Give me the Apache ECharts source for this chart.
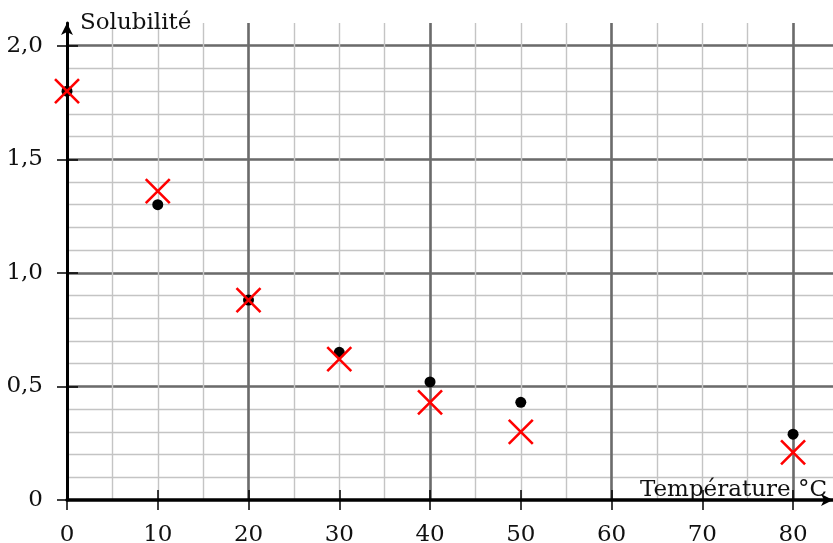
<!DOCTYPE html>
<html><head><meta charset="utf-8">
<script src="https://cdn.jsdelivr.net/npm/echarts@6/dist/echarts.min.js"></script>
<style>html,body{margin:0;padding:0;background:#fff}#c{width:833px;height:543px}</style>
</head><body><div id="c"></div>
<script>
// ---- data ----
const temperatures = [0, 10, 20, 30, 40, 50, 80];
const measured = [1.80, 1.30, 0.88, 0.65, 0.52, 0.43, 0.29];
const model = [1.80, 1.36, 0.88, 0.62, 0.43, 0.30, 0.21];
const xTicks = [0, 10, 20, 30, 40, 50, 60, 70, 80];
const yTicks = [0, 0.5, 1.0, 1.5, 2.0];
const xName = 'Température °C';
const yName = 'Solubilité';

const FONT = 'DejaVu Serif';
const X_MAX = 84.4, Y_MAX = 2.1;
const chart = echarts.init(document.getElementById('c'), null, {renderer: 'canvas'});
function fmtY(v) { return v === 0 ? '0' : v.toFixed(1).replace('.', ','); }
const hidden = {axisLabel: {show: false}, axisTick: {show: false}, axisLine: {show: false}};
const light = {color: '#c4c4c4', width: 1.4};
const dark = {color: '#6b6b6b', width: 2.6};

const option = {
  animation: false,
  grid: {left: 67, right: 0, top: 23, bottom: 43, containLabel: false, outerBoundsMode: 'none'},
  xAxis: [
    Object.assign({type: 'value', min: 0, max: X_MAX, interval: 5,
      splitLine: {show: true, showMinLine: false, showMaxLine: false, lineStyle: light}}, hidden),
    Object.assign({type: 'value', min: 0, max: X_MAX, interval: 20,
      splitLine: {show: true, showMinLine: false, showMaxLine: false, lineStyle: dark}}, hidden),
    {type: 'value', min: 0, max: X_MAX, interval: 10, position: 'bottom',
      axisLine: {show: false}, axisLabel: {show: false},
      axisTick: {show: true, inside: true, length: 10, customValues: xTicks.slice(1), lineStyle: {color: '#000', width: 1.5}},
      splitLine: {show: false}},
    {type: 'value', min: 0, max: X_MAX, interval: 10, position: 'bottom',
      name: xName, nameLocation: 'end', nameGap: 0,
      nameTextStyle: {fontFamily: FONT, fontSize: 23, color: '#111', align: 'right', verticalAlign: 'bottom', lineHeight: 20, padding: [0, 6, 0, 0]},
      axisLine: {show: true, onZero: false, symbol: ['none', 'arrow'], symbolSize: [9, 12], lineStyle: {color: '#000', width: 3.5}},
      axisTick: {show: true, length: 10, customValues: xTicks, lineStyle: {color: '#000', width: 1.5}},
      axisLabel: {customValues: xTicks, fontFamily: FONT, fontSize: 23, color: '#111', margin: 24},
      splitLine: {show: false}}
  ],
  yAxis: [
    Object.assign({type: 'value', min: 0, max: Y_MAX, interval: 0.1,
      splitLine: {show: true, showMinLine: false, showMaxLine: false, lineStyle: light}}, hidden),
    Object.assign({type: 'value', min: 0, max: Y_MAX, interval: 0.5,
      splitLine: {show: true, showMinLine: false, showMaxLine: false, lineStyle: dark}}, hidden),
    {type: 'value', min: 0, max: Y_MAX, interval: 0.5, position: 'left',
      axisLine: {show: false}, axisLabel: {show: false},
      axisTick: {show: true, inside: true, length: 11, customValues: yTicks.slice(1), lineStyle: {color: '#000', width: 1.5}},
      splitLine: {show: false}},
    {type: 'value', min: 0, max: Y_MAX, interval: 0.5, position: 'left',
      name: yName, nameLocation: 'end', nameGap: 0,
      nameTextStyle: {fontFamily: FONT, fontSize: 23, color: '#111', align: 'left', verticalAlign: 'middle', padding: [0, 0, 0, 13]},
      axisLine: {show: true, onZero: false, symbol: ['none', 'arrow'], symbolSize: [9, 12], lineStyle: {color: '#000', width: 3}},
      axisTick: {show: true, length: 10, customValues: yTicks, lineStyle: {color: '#000', width: 1.5}},
      axisLabel: {customValues: yTicks, formatter: fmtY, fontFamily: FONT, fontSize: 23, color: '#111', margin: 24},
      splitLine: {show: false}}
  ],
  series: [
    {type: 'scatter', xAxisIndex: 3, yAxisIndex: 3, symbol: 'circle', symbolSize: 11, clip: false,
      itemStyle: {color: '#000', opacity: 1}, data: temperatures.map((t, i) => [t, measured[i]]), z: 3},
    {type: 'scatter', xAxisIndex: 3, yAxisIndex: 3, symbol: 'path://M0,0L24,24M24,0L0,24', symbolSize: 24, clip: false,
      itemStyle: {color: 'transparent', borderColor: '#ff0000', borderWidth: 2.6, opacity: 1}, data: temperatures.map((t, i) => [t, model[i]]), z: 4}
  ]
};
chart.setOption(option);
</script></body></html>
